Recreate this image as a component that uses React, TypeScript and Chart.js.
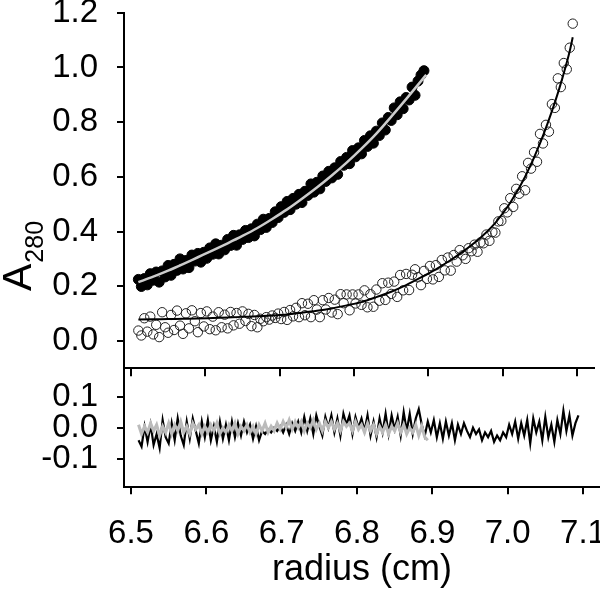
import React, { useEffect, useRef } from "react";
import { Chart, registerables } from "chart.js";

Chart.register(...registerables);

const FONT = '"Liberation Sans", Arial, Helvetica, sans-serif';

// radius positions of the scans (cm)
const openRadius = [
  6.510, 6.514, 6.518, 6.522, 6.526, 6.530, 6.534, 6.538, 6.542, 6.546,
  6.550, 6.554, 6.558, 6.562, 6.566, 6.570, 6.574, 6.578, 6.582, 6.586,
  6.590, 6.594, 6.598, 6.602, 6.606, 6.610, 6.614, 6.618, 6.622, 6.626,
  6.630, 6.634, 6.638, 6.642, 6.646, 6.650, 6.654, 6.658, 6.662, 6.666,
  6.670, 6.674, 6.678, 6.682, 6.686, 6.690, 6.694, 6.698, 6.702, 6.706,
  6.710, 6.714, 6.718, 6.722, 6.726, 6.730, 6.734, 6.738, 6.742, 6.746,
  6.750, 6.754, 6.758, 6.762, 6.766, 6.770, 6.774, 6.778, 6.782, 6.786,
  6.790, 6.794, 6.798, 6.802, 6.806, 6.810, 6.814, 6.818, 6.822, 6.826,
  6.830, 6.834, 6.838, 6.842, 6.846, 6.850, 6.854, 6.858, 6.862, 6.866,
  6.870, 6.874, 6.878, 6.882, 6.886, 6.890, 6.894, 6.898, 6.902, 6.906,
  6.910, 6.914, 6.918, 6.922, 6.926, 6.930, 6.934, 6.938, 6.942, 6.946,
  6.950, 6.954, 6.958, 6.962, 6.966, 6.970, 6.974, 6.978, 6.982, 6.986,
  6.990, 6.994, 6.998, 7.002, 7.006, 7.010, 7.014, 7.018, 7.022, 7.026,
  7.030, 7.034, 7.038, 7.042, 7.046, 7.050, 7.054, 7.058, 7.062, 7.066,
  7.070, 7.074, 7.078, 7.082, 7.086, 7.090, 7.094,
];

// open circles (A280)
const openA280 = [
  0.038, 0.020, 0.083, 0.034, 0.089, 0.024, 0.059, 0.014, 0.105, 0.050,
  0.030, 0.095, 0.040, 0.111, 0.056, 0.026, 0.101, 0.046, 0.112, 0.072,
  0.032, 0.102, 0.053, 0.108, 0.043, 0.089, 0.039, 0.105, 0.050, 0.096,
  0.046, 0.106, 0.057, 0.102, 0.063, 0.108, 0.073, 0.099, 0.054, 0.095,
  0.050, 0.081, 0.072, 0.087, 0.078, 0.093, 0.084, 0.100, 0.080, 0.106,
  0.077, 0.113, 0.090, 0.121, 0.087, 0.138, 0.094, 0.136, 0.087, 0.149,
  0.115, 0.087, 0.149, 0.115, 0.157, 0.104, 0.151, 0.098, 0.171, 0.138,
  0.170, 0.112, 0.170, 0.137, 0.170, 0.132, 0.185, 0.123, 0.171, 0.125,
  0.188, 0.147, 0.211, 0.150, 0.213, 0.172, 0.217, 0.161, 0.241, 0.185,
  0.245, 0.186, 0.242, 0.262, 0.233, 0.204, 0.256, 0.227, 0.274, 0.225,
  0.277, 0.234, 0.296, 0.258, 0.305, 0.257, 0.314, 0.290, 0.332, 0.313,
  0.300, 0.339, 0.328, 0.352, 0.326, 0.360, 0.357, 0.389, 0.366, 0.398,
  0.396, 0.437, 0.439, 0.485, 0.470, 0.522, 0.490, 0.556, 0.538, 0.602,
  0.551, 0.651, 0.630, 0.690, 0.655, 0.757, 0.722, 0.790, 0.765, 0.866,
  0.852, 0.960, 0.928, 1.016, 0.993, 1.072, 1.160,
];

// residuals of the open-circle fit
const openResidual = [
  -0.040, -0.060, 0.005, -0.045, 0.010, -0.055, -0.020, -0.065, 0.025, -0.030,
  -0.050, 0.015, -0.040, 0.030, -0.025, -0.055, 0.020, -0.035, 0.030, -0.010,
  -0.050, 0.020, -0.030, 0.025, -0.040, 0.005, -0.045, 0.020, -0.035, 0.010,
  -0.040, 0.020, -0.030, 0.015, -0.025, 0.020, -0.015, 0.010, -0.035, 0.005,
  -0.040, -0.010, -0.020, -0.005, -0.015, 0.000, -0.010, 0.005, -0.015, 0.010,
  -0.020, 0.015, -0.010, 0.020, -0.015, 0.035, -0.010, 0.030, -0.020, 0.040,
  0.005, -0.025, 0.035, 0.000, 0.040, -0.015, 0.030, -0.025, 0.045, 0.010,
  0.040, -0.020, 0.035, 0.000, 0.030, -0.010, 0.040, -0.025, 0.020, -0.030,
  0.030, -0.015, 0.045, -0.020, 0.040, -0.005, 0.035, -0.025, 0.050, -0.010,
  0.045, -0.020, 0.030, 0.060, 0.010, -0.025, 0.020, -0.015, 0.025, -0.030,
  0.015, -0.035, 0.020, -0.025, 0.015, -0.040, 0.010, -0.020, 0.015, -0.010,
  -0.030, 0.000, -0.020, -0.005, -0.040, -0.015, -0.030, -0.010, -0.045, -0.025,
  -0.040, -0.015, -0.030, 0.010, -0.020, 0.020, -0.035, 0.015, -0.025, 0.025,
  -0.050, 0.030, -0.015, 0.020, -0.040, 0.035, -0.030, 0.010, -0.045, 0.025,
  -0.020, 0.055, -0.010, 0.040, -0.025, 0.015, 0.040,
];

const filledRadius = [
  6.510, 6.514, 6.518, 6.522, 6.526, 6.530, 6.534, 6.538, 6.542, 6.546,
  6.550, 6.554, 6.558, 6.562, 6.566, 6.570, 6.574, 6.578, 6.582, 6.586,
  6.590, 6.594, 6.598, 6.602, 6.606, 6.610, 6.614, 6.618, 6.622, 6.626,
  6.630, 6.634, 6.638, 6.642, 6.646, 6.650, 6.654, 6.658, 6.662, 6.666,
  6.670, 6.674, 6.678, 6.682, 6.686, 6.690, 6.694, 6.698, 6.702, 6.706,
  6.710, 6.714, 6.718, 6.722, 6.726, 6.730, 6.734, 6.738, 6.742, 6.746,
  6.750, 6.754, 6.758, 6.762, 6.766, 6.770, 6.774, 6.778, 6.782, 6.786,
  6.790, 6.794, 6.798, 6.802, 6.806, 6.810, 6.814, 6.818, 6.822, 6.826,
  6.830, 6.834, 6.838, 6.842, 6.846, 6.850, 6.854, 6.858, 6.862, 6.866,
  6.870, 6.874, 6.878, 6.882, 6.886, 6.890, 6.894,
];

// filled circles (A280)
const filledA280 = [
  0.225, 0.199, 0.228, 0.205, 0.246, 0.222, 0.252, 0.215, 0.256, 0.234,
  0.276, 0.240, 0.280, 0.258, 0.300, 0.263, 0.294, 0.268, 0.314, 0.292,
  0.320, 0.288, 0.324, 0.302, 0.340, 0.317, 0.355, 0.318, 0.350, 0.333,
  0.371, 0.349, 0.386, 0.350, 0.388, 0.371, 0.404, 0.378, 0.410, 0.384,
  0.427, 0.407, 0.445, 0.415, 0.448, 0.433, 0.472, 0.451, 0.491, 0.470,
  0.510, 0.480, 0.521, 0.500, 0.536, 0.506, 0.547, 0.532, 0.574, 0.544,
  0.580, 0.556, 0.603, 0.583, 0.620, 0.596, 0.633, 0.609, 0.656, 0.642,
  0.671, 0.648, 0.696, 0.673, 0.706, 0.684, 0.733, 0.711, 0.750, 0.723,
  0.767, 0.751, 0.797, 0.771, 0.817, 0.806, 0.852, 0.827, 0.874, 0.849,
  0.890, 0.881, 0.928, 0.898, 0.950, 0.972, 0.988,
];

// residuals of the filled-circle fit
const filledResidual = [
  0.010, -0.020, 0.005, -0.015, 0.015, -0.010, 0.010, -0.025, 0.005, -0.015,
  0.015, -0.020, 0.010, -0.010, 0.020, -0.015, 0.005, -0.020, 0.015, -0.005,
  0.010, -0.020, 0.005, -0.015, 0.010, -0.010, 0.015, -0.020, 0.000, -0.015,
  0.010, -0.010, 0.015, -0.020, 0.005, -0.010, 0.010, -0.015, 0.005, -0.020,
  0.010, -0.010, 0.015, -0.015, 0.005, -0.010, 0.015, -0.005, 0.020, 0.000,
  0.025, -0.005, 0.020, 0.000, 0.020, -0.010, 0.015, 0.000, 0.025, -0.005,
  0.015, -0.010, 0.020, 0.000, 0.020, -0.005, 0.015, -0.010, 0.020, 0.005,
  0.015, -0.010, 0.020, -0.005, 0.010, -0.015, 0.015, -0.010, 0.010, -0.020,
  0.005, -0.015, 0.010, -0.020, 0.005, -0.010, 0.015, -0.015, 0.010, -0.020,
  0.000, -0.015, 0.010, -0.025, 0.005, -0.030, -0.040,
];

// fitted curves
const openFitRadius = [
  6.51, 6.53, 6.55, 6.57, 6.59, 6.61, 6.63, 6.65, 6.67, 6.69, 6.71, 6.73, 6.75, 6.77, 6.79, 6.81,
  6.83, 6.85, 6.87, 6.89, 6.91, 6.93, 6.95, 6.97, 6.99, 7.01, 7.03, 7.05, 7.07, 7.08, 7.09, 7.094,
];
const openFitA280 = [
  0.078, 0.079, 0.080, 0.081, 0.082, 0.084, 0.086, 0.088, 0.090, 0.093, 0.097, 0.103, 0.110, 0.119, 0.130, 0.142,
  0.160, 0.180, 0.204, 0.232, 0.262, 0.296, 0.334, 0.377, 0.432, 0.505, 0.600, 0.722, 0.872, 0.960, 1.060, 1.110,
];
const filledFitRadius = [
  6.51, 6.53, 6.55, 6.57, 6.59, 6.61, 6.63, 6.65, 6.67, 6.69, 6.71,
  6.73, 6.75, 6.77, 6.79, 6.81, 6.83, 6.85, 6.87, 6.89, 6.897,
];
const filledFitA280 = [
  0.215, 0.235, 0.257, 0.281, 0.306, 0.331, 0.357, 0.384, 0.413, 0.446, 0.481,
  0.520, 0.561, 0.605, 0.652, 0.703, 0.758, 0.820, 0.884, 0.950, 0.973,
];

const xTicks = [6.5, 6.6, 6.7, 6.8, 6.9, 7.0, 7.1];
const topYTicks = [0, 0.2, 0.4, 0.6, 0.8, 1.0, 1.2];
const residTicks = [-0.1, 0, 0.1];

const pts = (xs: number[], ys: number[]) => xs.map((x, i) => ({ x, y: ys[i] }));

const X_MIN = 6.4907;
const X_MAX = 7.1226;
const TOP_H = 380;
const BOT_H = 225;
const BOT_TOP = 368;
const TICK_FONT = 33;

const yTitlePlugin = {
  id: "yTitleA280",
  afterDraw(chart: any) {
    const ctx = chart.ctx as CanvasRenderingContext2D;
    ctx.save();
    ctx.translate(31, 291);
    ctx.rotate(-Math.PI / 2);
    ctx.fillStyle = "#000";
    ctx.textAlign = "left";
    ctx.textBaseline = "alphabetic";
    ctx.font = `41px ${FONT}`;
    ctx.fillText("A", 0, 0);
    const w = ctx.measureText("A").width;
    ctx.font = `25px ${FONT}`;
    ctx.fillText("280", w + 1, 12);
    ctx.restore();
  },
};

const axisCommon = (tickLength: number) => ({
  grid: {
    drawOnChartArea: false,
    drawTicks: true,
    tickLength,
    color: "#000",
    lineWidth: 2,
  },
  border: { display: true, color: "#000", width: 2 },
});

export default function App() {
  const topRef = useRef<HTMLCanvasElement | null>(null);
  const botRef = useRef<HTMLCanvasElement | null>(null);

  useEffect(() => {
    if (!topRef.current || !botRef.current) return;

    const top = new Chart(topRef.current, {
      type: "scatter",
      data: {
        datasets: [
          {
            data: pts(filledFitRadius, filledFitA280),
            showLine: true,
            borderColor: "#cccccc",
            borderWidth: 2.5,
            pointRadius: 0,
            cubicInterpolationMode: "monotone",
          },
          {
            data: pts(openFitRadius, openFitA280),
            showLine: true,
            borderColor: "#000",
            borderWidth: 2,
            pointRadius: 0,
            cubicInterpolationMode: "monotone",
          },
          {
            data: pts(filledRadius, filledA280),
            pointRadius: 5,
            pointBackgroundColor: "#000",
            pointBorderColor: "#000",
            pointBorderWidth: 1,
          },
          {
            data: pts(openRadius, openA280),
            pointRadius: 4.7,
            pointBackgroundColor: "rgba(0,0,0,0)",
            pointBorderColor: "#222",
            pointBorderWidth: 1,
          },
        ],
      } as any,
      options: {
        animation: false,
        responsive: false,
        maintainAspectRatio: false,
        layout: { padding: { top: 12.7, left: 0, right: 0, bottom: 0 } },
        plugins: { legend: { display: false }, tooltip: { enabled: false } },
        scales: {
          x: {
            type: "linear",
            min: X_MIN,
            max: X_MAX,
            afterBuildTicks: (s: any) => {
              s.ticks = xTicks.map((v) => ({ value: v }));
            },
            ticks: { display: false },
            ...axisCommon(8),
            afterFit: (s: any) => {
              s.height = TOP_H - 368.3;
              s.paddingLeft = 0;
              s.paddingRight = 0;
            },
          },
          y: {
            type: "linear",
            min: -0.1,
            max: 1.2,
            afterBuildTicks: (s: any) => {
              s.ticks = topYTicks.map((v) => ({ value: v }));
            },
            ticks: {
              callback: (v: any) => Number(v).toFixed(1),
              color: "#000",
              font: { size: TICK_FONT, family: FONT },
              padding: 19,
            },
            ...axisCommon(7),
            afterFit: (s: any) => {
              s.width = 124;
              s.paddingTop = 0;
              s.paddingBottom = 0;
            },
          },
        },
      } as any,
      plugins: [yTitlePlugin],
    });

    const bot = new Chart(botRef.current, {
      type: "scatter",
      data: {
        datasets: [
          {
            data: pts(filledRadius, filledResidual),
            showLine: true,
            borderColor: "#bbbbbb",
            borderWidth: 3,
            pointRadius: 0,
          },
          {
            data: pts(openRadius, openResidual),
            showLine: true,
            borderColor: "#000",
            borderWidth: 2.2,
            pointRadius: 0,
          },
        ],
      } as any,
      options: {
        animation: false,
        responsive: false,
        maintainAspectRatio: false,
        layout: { padding: { top: 0.3, left: 0, right: 0, bottom: 0 } },
        plugins: { legend: { display: false }, tooltip: { enabled: false } },
        scales: {
          x: {
            type: "linear",
            min: X_MIN,
            max: X_MAX,
            afterBuildTicks: (s: any) => {
              s.ticks = xTicks.map((v) => ({ value: v }));
            },
            ticks: {
              callback: (v: any) => Number(v).toFixed(1),
              color: "#000",
              font: { size: TICK_FONT, family: FONT },
              padding: 20,
              maxRotation: 0,
              autoSkip: false,
            },
            title: {
              display: true,
              text: "radius (cm)",
              color: "#000",
              font: { size: 36, family: FONT },
              padding: { top: 0, bottom: 1 },
            },
            ...axisCommon(7),
            afterFit: (s: any) => {
              s.height = BOT_H - 119.3;
              s.paddingLeft = 0;
              s.paddingRight = 0;
            },
          },
          y: {
            type: "linear",
            min: -0.191,
            max: 0.191,
            afterBuildTicks: (s: any) => {
              s.ticks = residTicks.map((v) => ({ value: v }));
            },
            ticks: {
              callback: (v: any) => Number(v).toFixed(1),
              color: "#000",
              font: { size: TICK_FONT, family: FONT },
              padding: 19,
            },
            ...axisCommon(7),
            afterFit: (s: any) => {
              s.width = 124;
              s.paddingTop = 0;
              s.paddingBottom = 0;
            },
          },
        },
      } as any,
    });

    return () => {
      top.destroy();
      bot.destroy();
    };
  }, []);

  return (
    <div style={{ position: "absolute", left: 0, top: 0, width: 600, height: 593, background: "#fff", overflow: "hidden" }}>
      <canvas ref={topRef} width={600} height={TOP_H} style={{ position: "absolute", left: 0, top: 0, width: 600, height: TOP_H }} />
      <canvas ref={botRef} width={600} height={BOT_H} style={{ position: "absolute", left: 0, top: BOT_TOP, width: 600, height: BOT_H }} />
    </div>
  );
}
